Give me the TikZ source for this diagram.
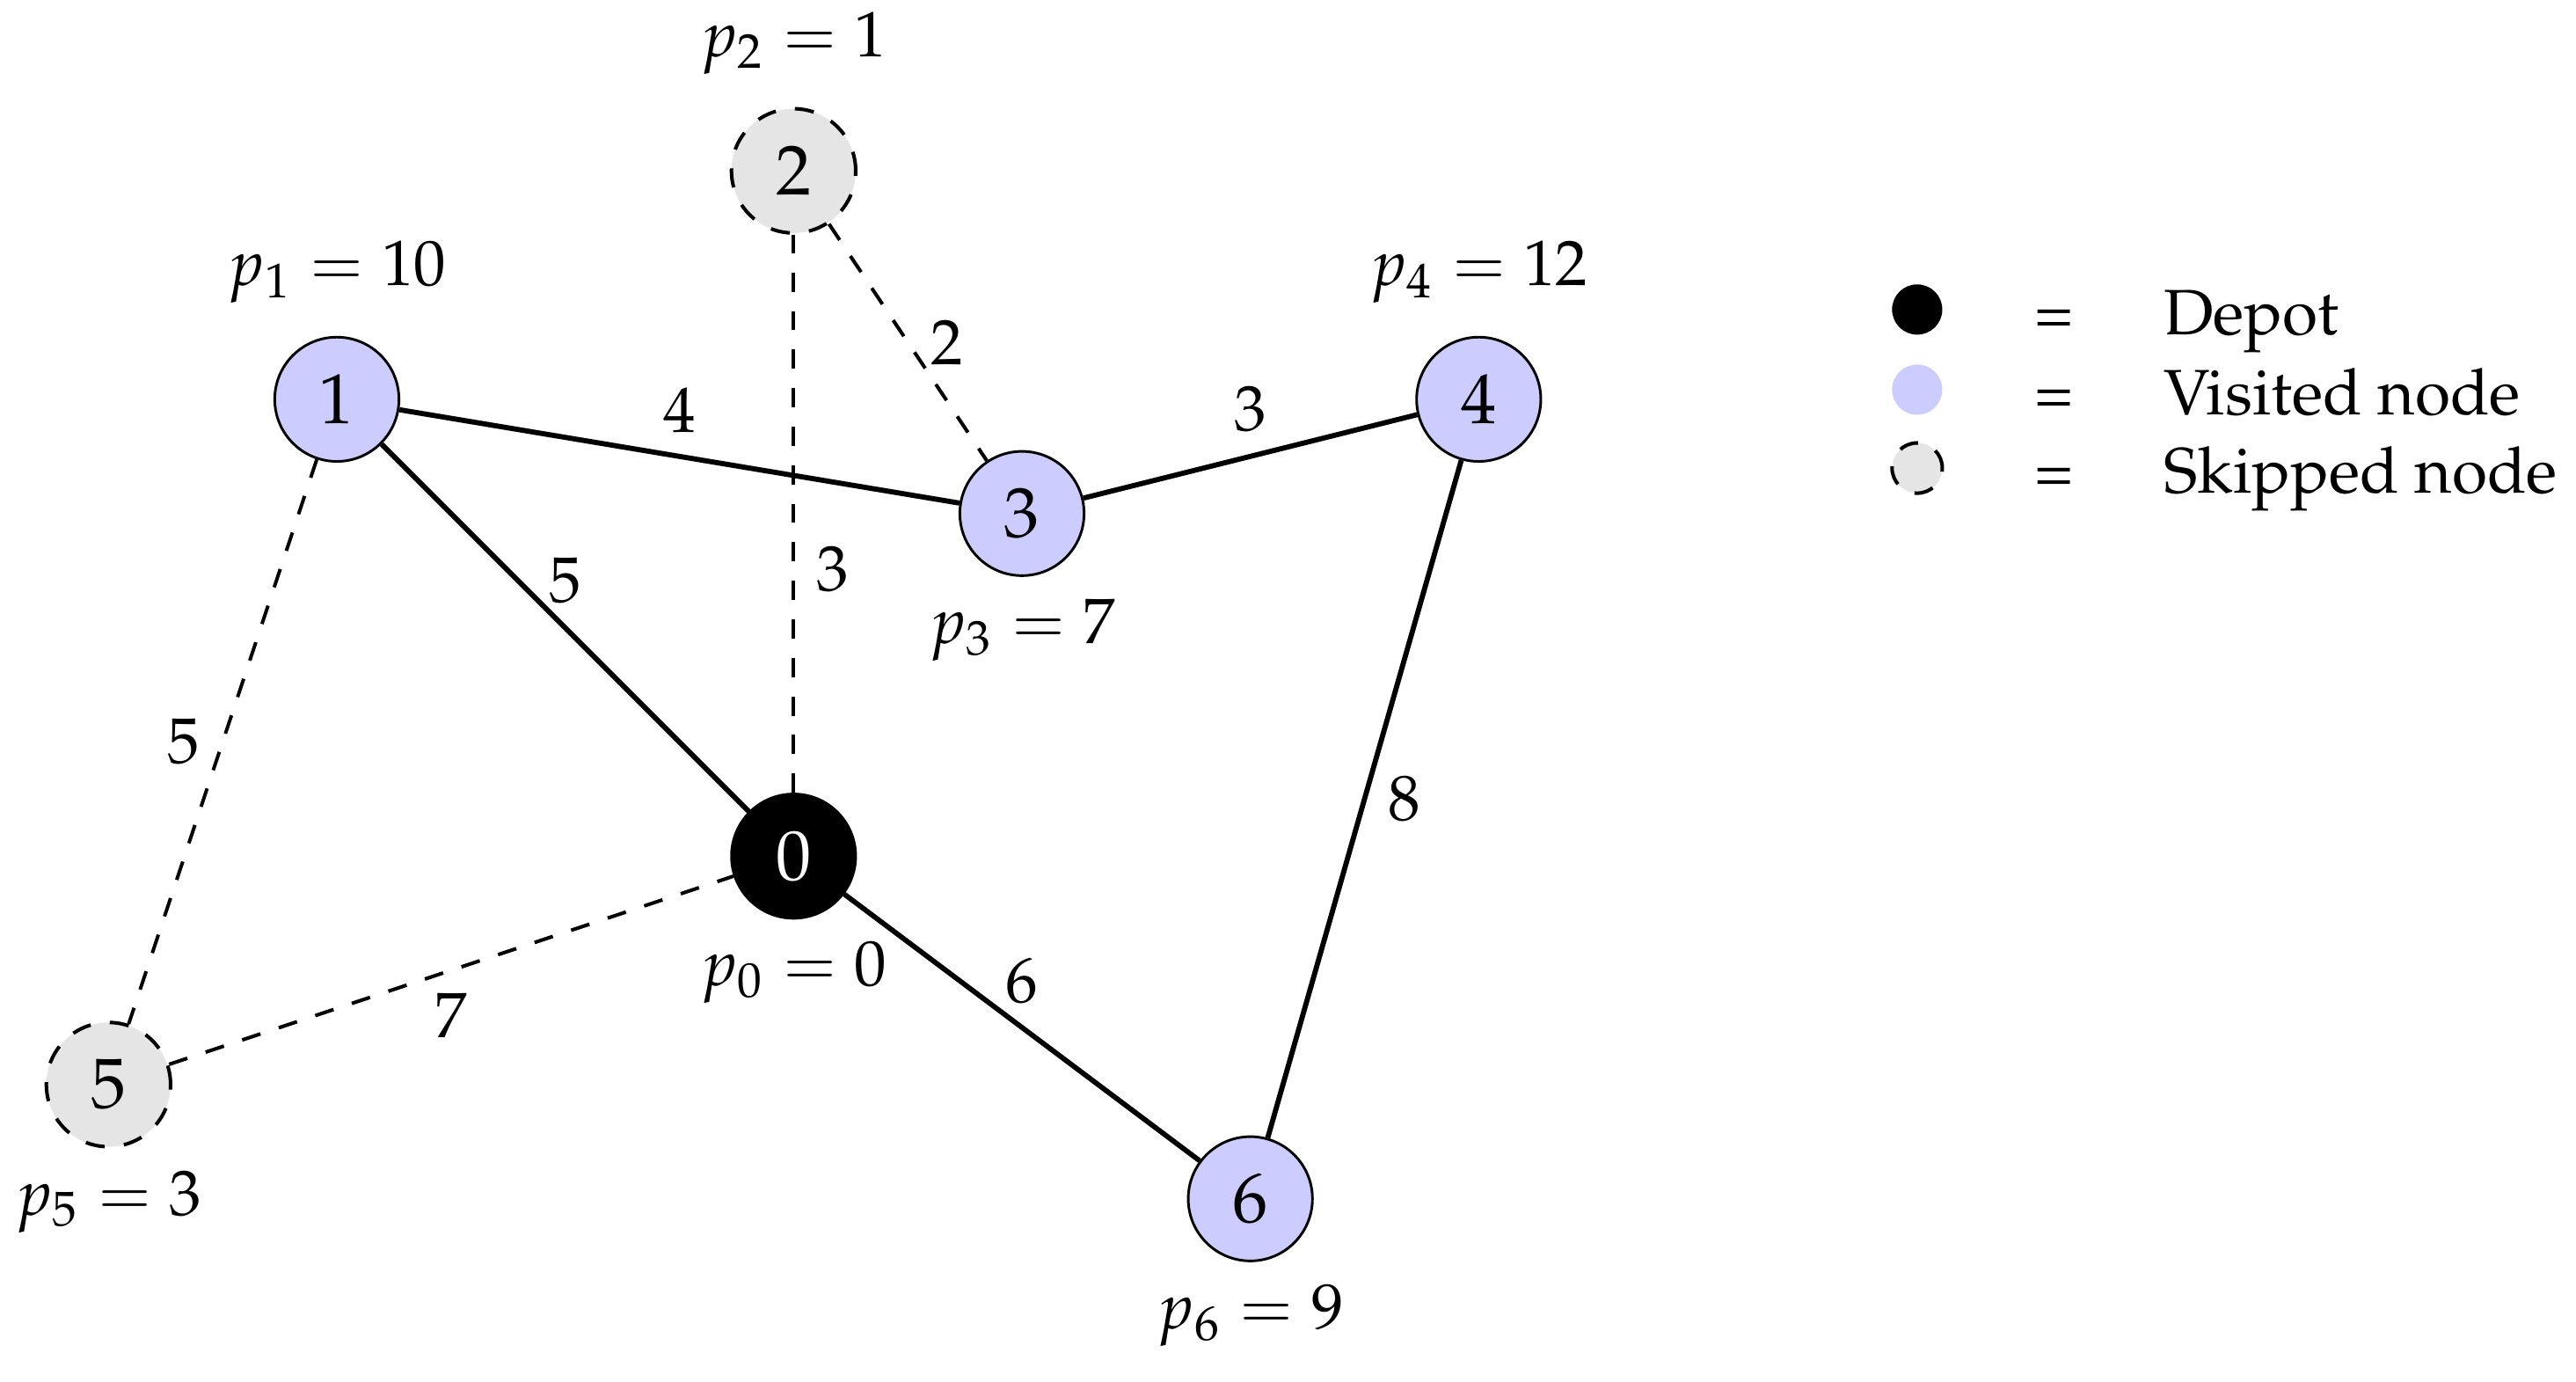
\documentclass[tikz,border=0pt]{standalone}
\usepackage[T1]{fontenc}
\usepackage{mathpazo}
\begin{document}
\begin{tikzpicture}[x=1.25cm,y=1.25cm,
  vertex/.style={circle,draw,line width=0.4pt,minimum size=0.68cm,inner sep=0pt,font=\fontsize{11}{13}\selectfont},
  depot/.style={vertex,fill=black,text=white},
  visited/.style={vertex,fill=blue!20},
  skipped/.style={vertex,fill=black!10,dashed,line width=0.55pt},
  route/.style={line width=0.8pt},
  skip/.style={line width=0.55pt,dashed},
  up/.style={label={[label distance=1.5pt]above:#1}},
  down/.style={label={[label distance=0pt]below:#1}},
  key/.style={circle,minimum size=0.275cm,inner sep=0pt}]
\useasboundingbox (-3.475,-2.302) rectangle (7.805,3.748);

% customers and depot
\node[depot,   down={$p_0 = 0$}]  (n0) at (0,0) {0};
\node[visited, up={$p_1 = 10$}]   (n1) at (-2,2) {1};
\node[skipped, up={$p_2 = 1$}]    (n2) at (0,3) {2};
\node[visited, down={$p_3 = 7$}]  (n3) at (1,1.5) {3};
\node[visited, up={$p_4 = 12$}]   (n4) at (3,2) {4};
\node[skipped, down={$p_5 = 3$}]  (n5) at (-3,-1) {5};
\node[visited, down={$p_6 = 9$}]  (n6) at (2,-1.5) {6};

% tour
\draw[route] (n0) -- node[above]{5} (n1);
\draw[route] (n1) -- node[above]{4} (n3);
\draw[route] (n3) -- node[above]{3} (n4);
\draw[route] (n4) -- node[right]{8} (n6);
\draw[route] (n6) -- node[above]{6} (n0);

% unused arcs
\draw[skip] (n0) -- node[right,pos=0.4]{3} (n2);
\draw[skip] (n2) -- node[right]{2} (n3);
\draw[skip] (n1) -- node[left]{5} (n5);
\draw[skip] (n5) -- node[below]{7} (n0);

% legend
\node[key,fill=black]                                (k0) at (4.92,2.393) {};
\node[key,fill=blue!20]                              (k1) at (4.92,2.042) {};
\node[key,fill=black!10,draw,dashed,line width=0.55pt] (k2) at (4.92,1.699) {};
\node[anchor=base] (e0) at (5.52,2.283) {=};
\node[anchor=base] (e1) at (5.52,1.932) {=};
\node[anchor=base] (e2) at (5.52,1.589) {=};
\node[anchor=base west] (t0) at (5.90,2.283) {Depot};
\node[anchor=base west] (t1) at (5.90,1.932) {Visited node};
\node[anchor=base west] (t2) at (5.90,1.589) {Skipped node};
\end{tikzpicture}
\end{document}
